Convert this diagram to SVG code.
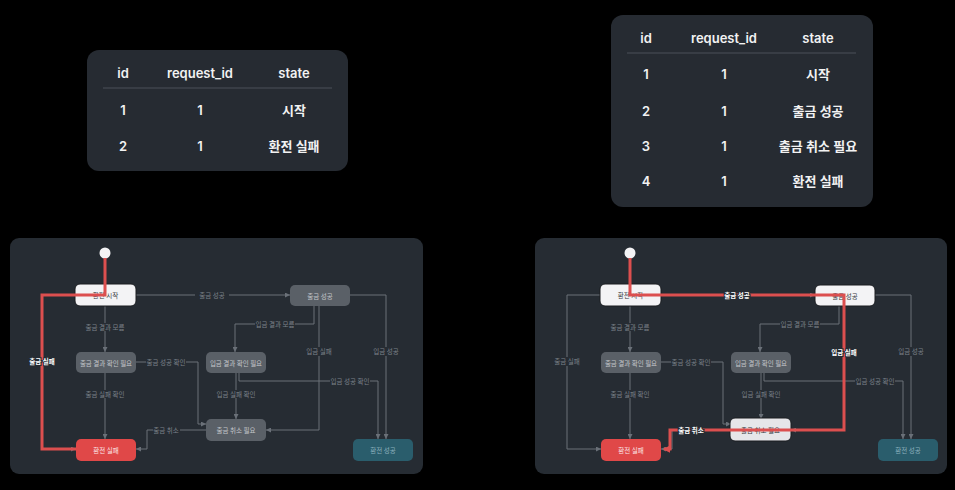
<svg xmlns="http://www.w3.org/2000/svg" width="955" height="490" viewBox="0 0 955 490">
<defs>
<style>
.tbl{fill:#262b32}
.th,.td{font-family:Inter,"Noto Sans CJK KR",sans-serif;font-size:13px;font-weight:600;fill:#f2f2f2;text-anchor:middle;dominant-baseline:central}
.div{stroke:#4a5058;stroke-width:1}
.panel{fill:#262c33}
.ln{fill:none;stroke:#6a7078;stroke-width:1}
.hl{fill:none;stroke:#dc4f4f;stroke-width:3;stroke-linejoin:miter}
.lb{font-family:"Noto Sans CJK KR",sans-serif;font-size:6.5px;fill:#7c828a;text-anchor:middle;dominant-baseline:central}
.lbh{font-family:"Noto Sans CJK KR",sans-serif;font-size:6.5px;font-weight:700;fill:#ffffff;text-anchor:middle;dominant-baseline:central}
.lbg{fill:#262c33}
.nt{font-family:"Noto Sans CJK KR",sans-serif;font-size:6.5px;text-anchor:middle;dominant-baseline:central}
.gray rect{fill:#5a6067}
.gray text{fill:#c3c6ca}
.white rect{fill:#f3f3f5;stroke:#1a1d21;stroke-width:1}
.white text{fill:#333840}
.lite rect{fill:#e6e6e9;stroke:#1a1d21;stroke-width:1}
.lite text{fill:#333840}
.red rect{fill:#e04848}
.red text{fill:#fbe9e9}
.teal rect{fill:#2a5d6c}
.teal text{fill:#8db1bd}
</style>
<marker id="ar" viewBox="0 0 6 6" refX="6" refY="3" markerWidth="5" markerHeight="5" orient="auto"><path d="M0,0 L6,3 L0,6 z" fill="#6a7078"/></marker>
<marker id="arr" viewBox="0 0 6 6" refX="5" refY="3" markerWidth="2.5" markerHeight="2.5" orient="auto"><path d="M0,0 L6,3 L0,6 z" fill="#dc4f4f"/></marker>
</defs>
<rect width="955" height="490" fill="#000"/>

<!-- Left table -->
<g id="table-left">
<rect class="tbl" x="87" y="50" width="261" height="121" rx="12"/>
<text class="th" x="123" y="73">id</text>
<text class="th" x="200" y="73">request_id</text>
<text class="th" x="294" y="73">state</text>
<line class="div" x1="103" y1="88" x2="332" y2="88"/>
<text class="td" x="123" y="110">1</text><text class="td" x="200" y="110">1</text><text class="td" x="294" y="110">시작</text>
<text class="td" x="123" y="146">2</text><text class="td" x="200" y="146">1</text><text class="td" x="294" y="146">환전 실패</text>
</g>

<!-- Right table -->
<g id="table-right">
<rect class="tbl" x="611" y="15" width="262" height="192" rx="12"/>
<text class="th" x="646" y="38">id</text>
<text class="th" x="724" y="38">request_id</text>
<text class="th" x="818" y="38">state</text>
<line class="div" x1="627" y1="53" x2="856" y2="53"/>
<text class="td" x="646" y="74">1</text><text class="td" x="724" y="74">1</text><text class="td" x="818" y="74">시작</text>
<text class="td" x="646" y="111">2</text><text class="td" x="724" y="111">1</text><text class="td" x="818" y="111">출금 성공</text>
<text class="td" x="646" y="146">3</text><text class="td" x="724" y="146">1</text><text class="td" x="818" y="146">출금 취소 필요</text>
<text class="td" x="646" y="181">4</text><text class="td" x="724" y="181">1</text><text class="td" x="818" y="181">환전 실패</text>
</g>

<!-- Left diagram -->
<rect class="panel" x="10" y="238" width="413" height="236" rx="9"/>
<g id="L-connectors">
<path class="ln" d="M105,258 V284"/>
<path class="ln" d="M75,295 H42 V449 H76" marker-end="url(#ar)"/>
<path class="ln" d="M136,295 H290" marker-end="url(#ar)"/>
<path class="ln" d="M105,306 V352" marker-end="url(#ar)"/>
<path class="ln" d="M105,373 V439" marker-end="url(#ar)"/>
<path class="ln" d="M136,362 H198 V424 H206" marker-end="url(#ar)"/>
<path class="ln" d="M314,306 V324 H235 V352" marker-end="url(#ar)"/>
<path class="ln" d="M319,306 V430 H266" marker-end="url(#ar)"/>
<path class="ln" d="M350,295 H386 V439" marker-end="url(#ar)"/>
<path class="ln" d="M239,373 V381 H378 V439" marker-end="url(#ar)"/>
<path class="ln" d="M236,373 V419" marker-end="url(#ar)"/>
<path class="ln" d="M206,430 H147 V449 H136" marker-end="url(#ar)"/>
<rect class="lbg" x="195" y="291" width="34" height="8"/><text class="lb" x="212" y="295">출금 성공</text>
<rect class="lbg" x="85" y="323" width="40" height="8"/><text class="lb" x="105" y="327">출금 결과 모름</text>
<rect class="lbg" x="85" y="390" width="40" height="8"/><text class="lb" x="105" y="394">출금 실패 확인</text>
<rect class="lbg" x="146" y="358" width="40" height="8"/><text class="lb" x="166" y="362">출금 성공 확인</text>
<rect class="lbg" x="255" y="320" width="40" height="8"/><text class="lb" x="275" y="324">입금 결과 모름</text>
<rect class="lbg" x="303" y="347" width="32" height="9"/><text class="lb" x="319" y="351">입금 실패</text>
<rect class="lbg" x="370" y="347" width="32" height="9"/><text class="lb" x="386" y="351">입금 성공</text>
<rect class="lbg" x="330" y="377" width="40" height="8"/><text class="lb" x="350" y="381">입금 성공 확인</text>
<rect class="lbg" x="216" y="390" width="40" height="8"/><text class="lb" x="236" y="394">입금 실패 확인</text>
<rect class="lbg" x="153" y="426" width="27" height="8"/><text class="lb" x="166" y="430">출금 취소</text>
</g>
<circle id="L-start" cx="105" cy="253" r="5.5" fill="#f3f3f5"/>
<g id="L-n1" class="white"><rect x="75" y="284" width="61" height="22" rx="5"/><text class="nt" x="105.5" y="295">환전 시작</text></g>
<g id="L-n2" class="gray"><rect x="290" y="285" width="60" height="21" rx="5"/><text class="nt" x="320" y="295.5">출금 성공</text></g>
<g id="L-n3" class="gray"><rect x="76" y="352" width="60" height="21" rx="5"/><text class="nt" x="106" y="362.5">출금 결과 확인 필요</text></g>
<g id="L-n4" class="gray"><rect x="206" y="352" width="60" height="21" rx="5"/><text class="nt" x="236" y="362.5">입금 결과 확인 필요</text></g>
<g id="L-n5" class="gray"><rect x="206" y="419" width="60" height="22" rx="5"/><text class="nt" x="236" y="430">출금 취소 필요</text></g>
<g id="L-n6" class="red"><rect x="76" y="439" width="60" height="22" rx="5"/><text class="nt" x="106" y="450">환전 실패</text></g>
<g id="L-n7" class="teal"><rect x="353" y="439" width="60" height="22" rx="5"/><text class="nt" x="383" y="450">환전 성공</text></g>
<g id="L-highlight">
<path class="hl" d="M105,258 V295 H42 V449 H76"/>
<text class="lbh" x="42" y="361" stroke="#262c33" stroke-width="2" paint-order="stroke">출금 실패</text>
</g>

<!-- Right diagram -->
<rect class="panel" x="535" y="238" width="412" height="236" rx="9"/>
<g id="R-connectors" transform="translate(525,0)">
<path class="ln" d="M105,258 V284"/>
<path class="ln" d="M75,295 H42 V449 H76" marker-end="url(#ar)"/>
<path class="ln" d="M136,295 H290" marker-end="url(#ar)"/>
<path class="ln" d="M105,306 V352" marker-end="url(#ar)"/>
<path class="ln" d="M105,373 V439" marker-end="url(#ar)"/>
<path class="ln" d="M136,362 H198 V424 H206" marker-end="url(#ar)"/>
<path class="ln" d="M314,306 V324 H235 V352" marker-end="url(#ar)"/>
<path class="ln" d="M319,306 V430 H266" marker-end="url(#ar)"/>
<path class="ln" d="M350,295 H386 V439" marker-end="url(#ar)"/>
<path class="ln" d="M239,373 V381 H378 V439" marker-end="url(#ar)"/>
<path class="ln" d="M236,373 V419" marker-end="url(#ar)"/>
<path class="ln" d="M206,430 H147 V449 H136" marker-end="url(#ar)"/>
<rect class="lbg" x="26" y="357" width="32" height="9"/><text class="lb" x="42" y="361">출금 실패</text>
<rect class="lbg" x="85" y="323" width="40" height="8"/><text class="lb" x="105" y="327">출금 결과 모름</text>
<rect class="lbg" x="85" y="390" width="40" height="8"/><text class="lb" x="105" y="394">출금 실패 확인</text>
<rect class="lbg" x="146" y="358" width="40" height="8"/><text class="lb" x="166" y="362">출금 성공 확인</text>
<rect class="lbg" x="255" y="320" width="40" height="8"/><text class="lb" x="275" y="324">입금 결과 모름</text>
<rect class="lbg" x="370" y="347" width="32" height="9"/><text class="lb" x="386" y="351">입금 성공</text>
<rect class="lbg" x="330" y="377" width="40" height="8"/><text class="lb" x="350" y="381">입금 성공 확인</text>
<rect class="lbg" x="216" y="390" width="40" height="8"/><text class="lb" x="236" y="394">입금 실패 확인</text>
</g>
<circle id="R-start" cx="630" cy="253" r="5.5" fill="#f3f3f5"/>
<g transform="translate(525,0)">
<g id="R-n1" class="white"><rect x="75" y="284" width="61" height="22" rx="5"/><text class="nt" x="105.5" y="295">환전 시작</text></g>
<g id="R-n2" class="white"><rect x="290" y="285" width="60" height="21" rx="5"/><text class="nt" x="320" y="295.5">출금 성공</text></g>
<g id="R-n3" class="gray"><rect x="76" y="352" width="60" height="21" rx="5"/><text class="nt" x="106" y="362.5">출금 결과 확인 필요</text></g>
<g id="R-n4" class="gray"><rect x="206" y="352" width="60" height="21" rx="5"/><text class="nt" x="236" y="362.5">입금 결과 확인 필요</text></g>
<g id="R-n5" class="lite"><rect x="205" y="418" width="61" height="23" rx="5"/><text class="nt" x="235.5" y="430">출금 취소 필요</text></g>
<g id="R-n6" class="red"><rect x="76" y="439" width="60" height="22" rx="5"/><text class="nt" x="106" y="450">환전 실패</text></g>
<g id="R-n7" class="teal"><rect x="353" y="439" width="60" height="22" rx="5"/><text class="nt" x="383" y="450">환전 성공</text></g>
</g>
<g id="R-highlight">
<path class="hl" d="M630,258 V295 H844 V430 H670 V449 H664" marker-end="url(#arr)"/>
<text class="lbh" x="737" y="295" stroke="#262c33" stroke-width="2" paint-order="stroke">출금 성공</text>
<text class="lbh" x="844" y="352" stroke="#262c33" stroke-width="2" paint-order="stroke">입금 실패</text>
<text class="lbh" x="691" y="430" stroke="#262c33" stroke-width="2" paint-order="stroke">출금 취소</text>
</g>
</svg>
